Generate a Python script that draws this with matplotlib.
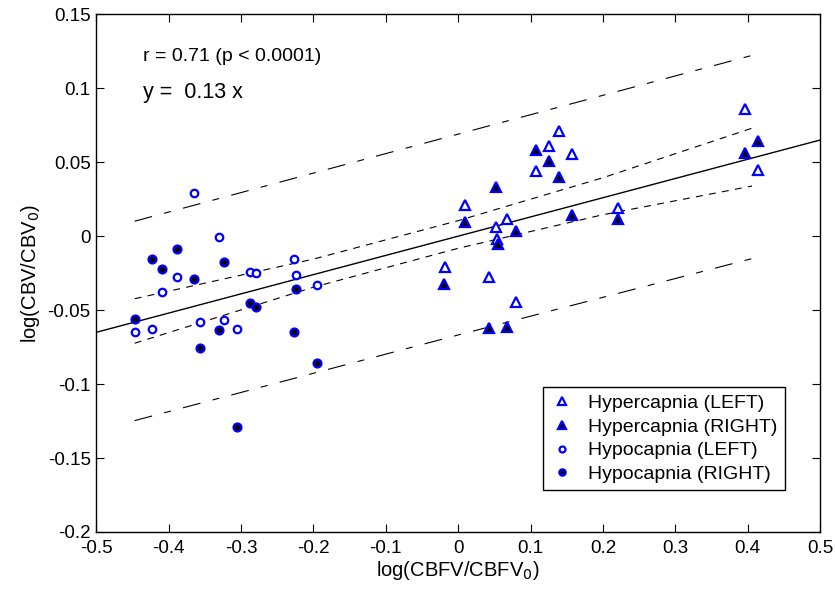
import matplotlib
matplotlib.use("Agg")
import matplotlib.pyplot as plt
import numpy as np

plt.rcParams['font.family'] = ['Liberation Sans', 'DejaVu Sans']
plt.rcParams['axes.unicode_minus'] = False
plt.rcParams['lines.scale_dashes'] = False

# ---- data ----
hyper_left_x = [0.396, 0.139, 0.126, 0.157, 0.107, 0.414, 0.010, 0.221, 0.067, 0.052, 0.054, -0.018, 0.043, 0.080]
hyper_left_y = [0.086, 0.071, 0.061, 0.0556, 0.0441, 0.0446, 0.0209, 0.0193, 0.0114, 0.0062, -0.0019, -0.021, -0.0278, -0.0445]

hyper_right_x = [0.414, 0.396, 0.107, 0.126, 0.139, 0.052, 0.010, 0.157, 0.221, 0.080, 0.055, -0.019, 0.043, 0.067]
hyper_right_y = [0.0646, 0.056, 0.0583, 0.051, 0.0402, 0.0331, 0.0098, 0.0141, 0.0114, 0.0037, -0.0055, -0.0321, -0.0623, -0.0614]

hypo_left_x = [-0.365, -0.331, -0.389, -0.409, -0.287, -0.279, -0.227, -0.224, -0.195, -0.447, -0.423, -0.357, -0.324, -0.305]
hypo_left_y = [0.0292, -0.0007, -0.0274, -0.0377, -0.0242, -0.0251, -0.0156, -0.026, -0.0332, -0.0648, -0.0629, -0.0582, -0.0569, -0.0629]

hypo_right_x = [-0.423, -0.389, -0.409, -0.365, -0.324, -0.447, -0.287, -0.279, -0.224, -0.331, -0.357, -0.227, -0.195, -0.306]
hypo_right_y = [-0.0156, -0.0085, -0.022, -0.0287, -0.0174, -0.0558, -0.0452, -0.0479, -0.0355, -0.0632, -0.0754, -0.065, -0.0855, -0.1292]

slope = 0.13
fit_x = [-0.5, 0.5]

conf_x = [-0.447, -0.2, 0.0, 0.2, 0.406]
conf_upper = [-0.0423, -0.0155, 0.0105, 0.0395, 0.073]
conf_lower = [-0.0724, -0.0345, -0.0082, 0.0145, 0.0339]

pred_x = [-0.447, 0.0, 0.408]
pred_upper = [0.0101, 0.069, 0.1225]
pred_lower = [-0.1247, -0.0668, -0.0149]

xticks = [-0.5, -0.4, -0.3, -0.2, -0.1, 0.0, 0.1, 0.2, 0.3, 0.4, 0.5]
xticklabels = ['-0.5', '-0.4', '-0.3', '-0.2', '-0.1', '0', '0.1', '0.2', '0.3', '0.4', '0.5']
yticks = [-0.2, -0.15, -0.1, -0.05, 0.0, 0.05, 0.1, 0.15]
yticklabels = ['-0.2', '-0.15', '-0.1', '-0.05', '0', '0.05', '0.1', '0.15']

# ---- figure ----
fig = plt.figure(figsize=(8.35, 5.96), dpi=100)
ax = fig.add_axes([0.1153, 0.1074, 0.8668, 0.8686])

blue = (0, 0, 1)
ax.plot(hyper_left_x, hyper_left_y, linestyle='none', marker='^', ms=6.8, mew=1.6,
        mec=blue, mfc='white', label='Hypercapnia (LEFT)', zorder=3)
ax.plot(hyper_right_x, hyper_right_y, linestyle='none', marker='^', ms=6.8, mew=1.6,
        mec=blue, mfc='black', label='Hypercapnia (RIGHT)', zorder=3)
ax.plot(hypo_left_x, hypo_left_y, linestyle='none', marker='o', ms=5.4, mew=1.6,
        mec=blue, mfc='white', label='Hypocapnia (LEFT)', zorder=3)
ax.plot(hypo_right_x, hypo_right_y, linestyle='none', marker='o', ms=5.7, mew=1.6,
        mec=blue, mfc='black', label='Hypocapnia (RIGHT)', zorder=3)

fx = np.array(fit_x)
ax.plot(fx, slope * fx, color='black', lw=1.0, zorder=2)
ax.plot(conf_x, conf_upper, color='black', lw=0.8, dashes=(5, 4.5), zorder=2)
ax.plot(conf_x, conf_lower, color='black', lw=0.8, dashes=(5, 4.5), zorder=2)
ax.plot(pred_x, pred_upper, color='black', lw=0.8, dashes=(13, 9, 5, 9), zorder=2)
ax.plot(pred_x, pred_lower, color='black', lw=0.8, dashes=(13, 9, 5, 9), zorder=2)

ax.set_xlim(-0.5, 0.5)
ax.set_ylim(-0.2, 0.15)
ax.set_xticks(xticks)
ax.set_xticklabels(xticklabels)
ax.set_yticks(yticks)
ax.set_yticklabels(yticklabels)
ax.tick_params(direction='in', length=5.5, width=0.8, top=True, right=True,
               labelsize=13.5, colors='black')
ax.tick_params(axis='x', pad=5.5)
ax.tick_params(axis='y', pad=4)
for s in ax.spines.values():
    s.set_linewidth(1.0)

ax.set_xlabel('log(CBFV/CBFV$_0$)', fontsize=14.5, labelpad=2)
ax.set_ylabel('log(CBV/CBV$_0$)', fontsize=14.5, labelpad=4)

ax.text(0.0645, 0.9092, 'r = 0.71 (p < 0.0001)', transform=ax.transAxes,
        fontsize=14, va='baseline', ha='left')
ax.text(0.0645, 0.8383, 'y =  0.13 x', transform=ax.transAxes,
        fontsize=15.5, va='baseline', ha='left')

leg = ax.legend(loc='lower left', bbox_to_anchor=(0.6168, 0.0811), fontsize=14,
                frameon=True, fancybox=False, edgecolor='black', framealpha=1,
                handlelength=1.3, handletextpad=0.7, labelspacing=0.32,
                borderpad=0.35, borderaxespad=0, markerscale=0.8, numpoints=1)
leg.get_frame().set_linewidth(1.0)

fig.savefig('out.png', dpi=100)
